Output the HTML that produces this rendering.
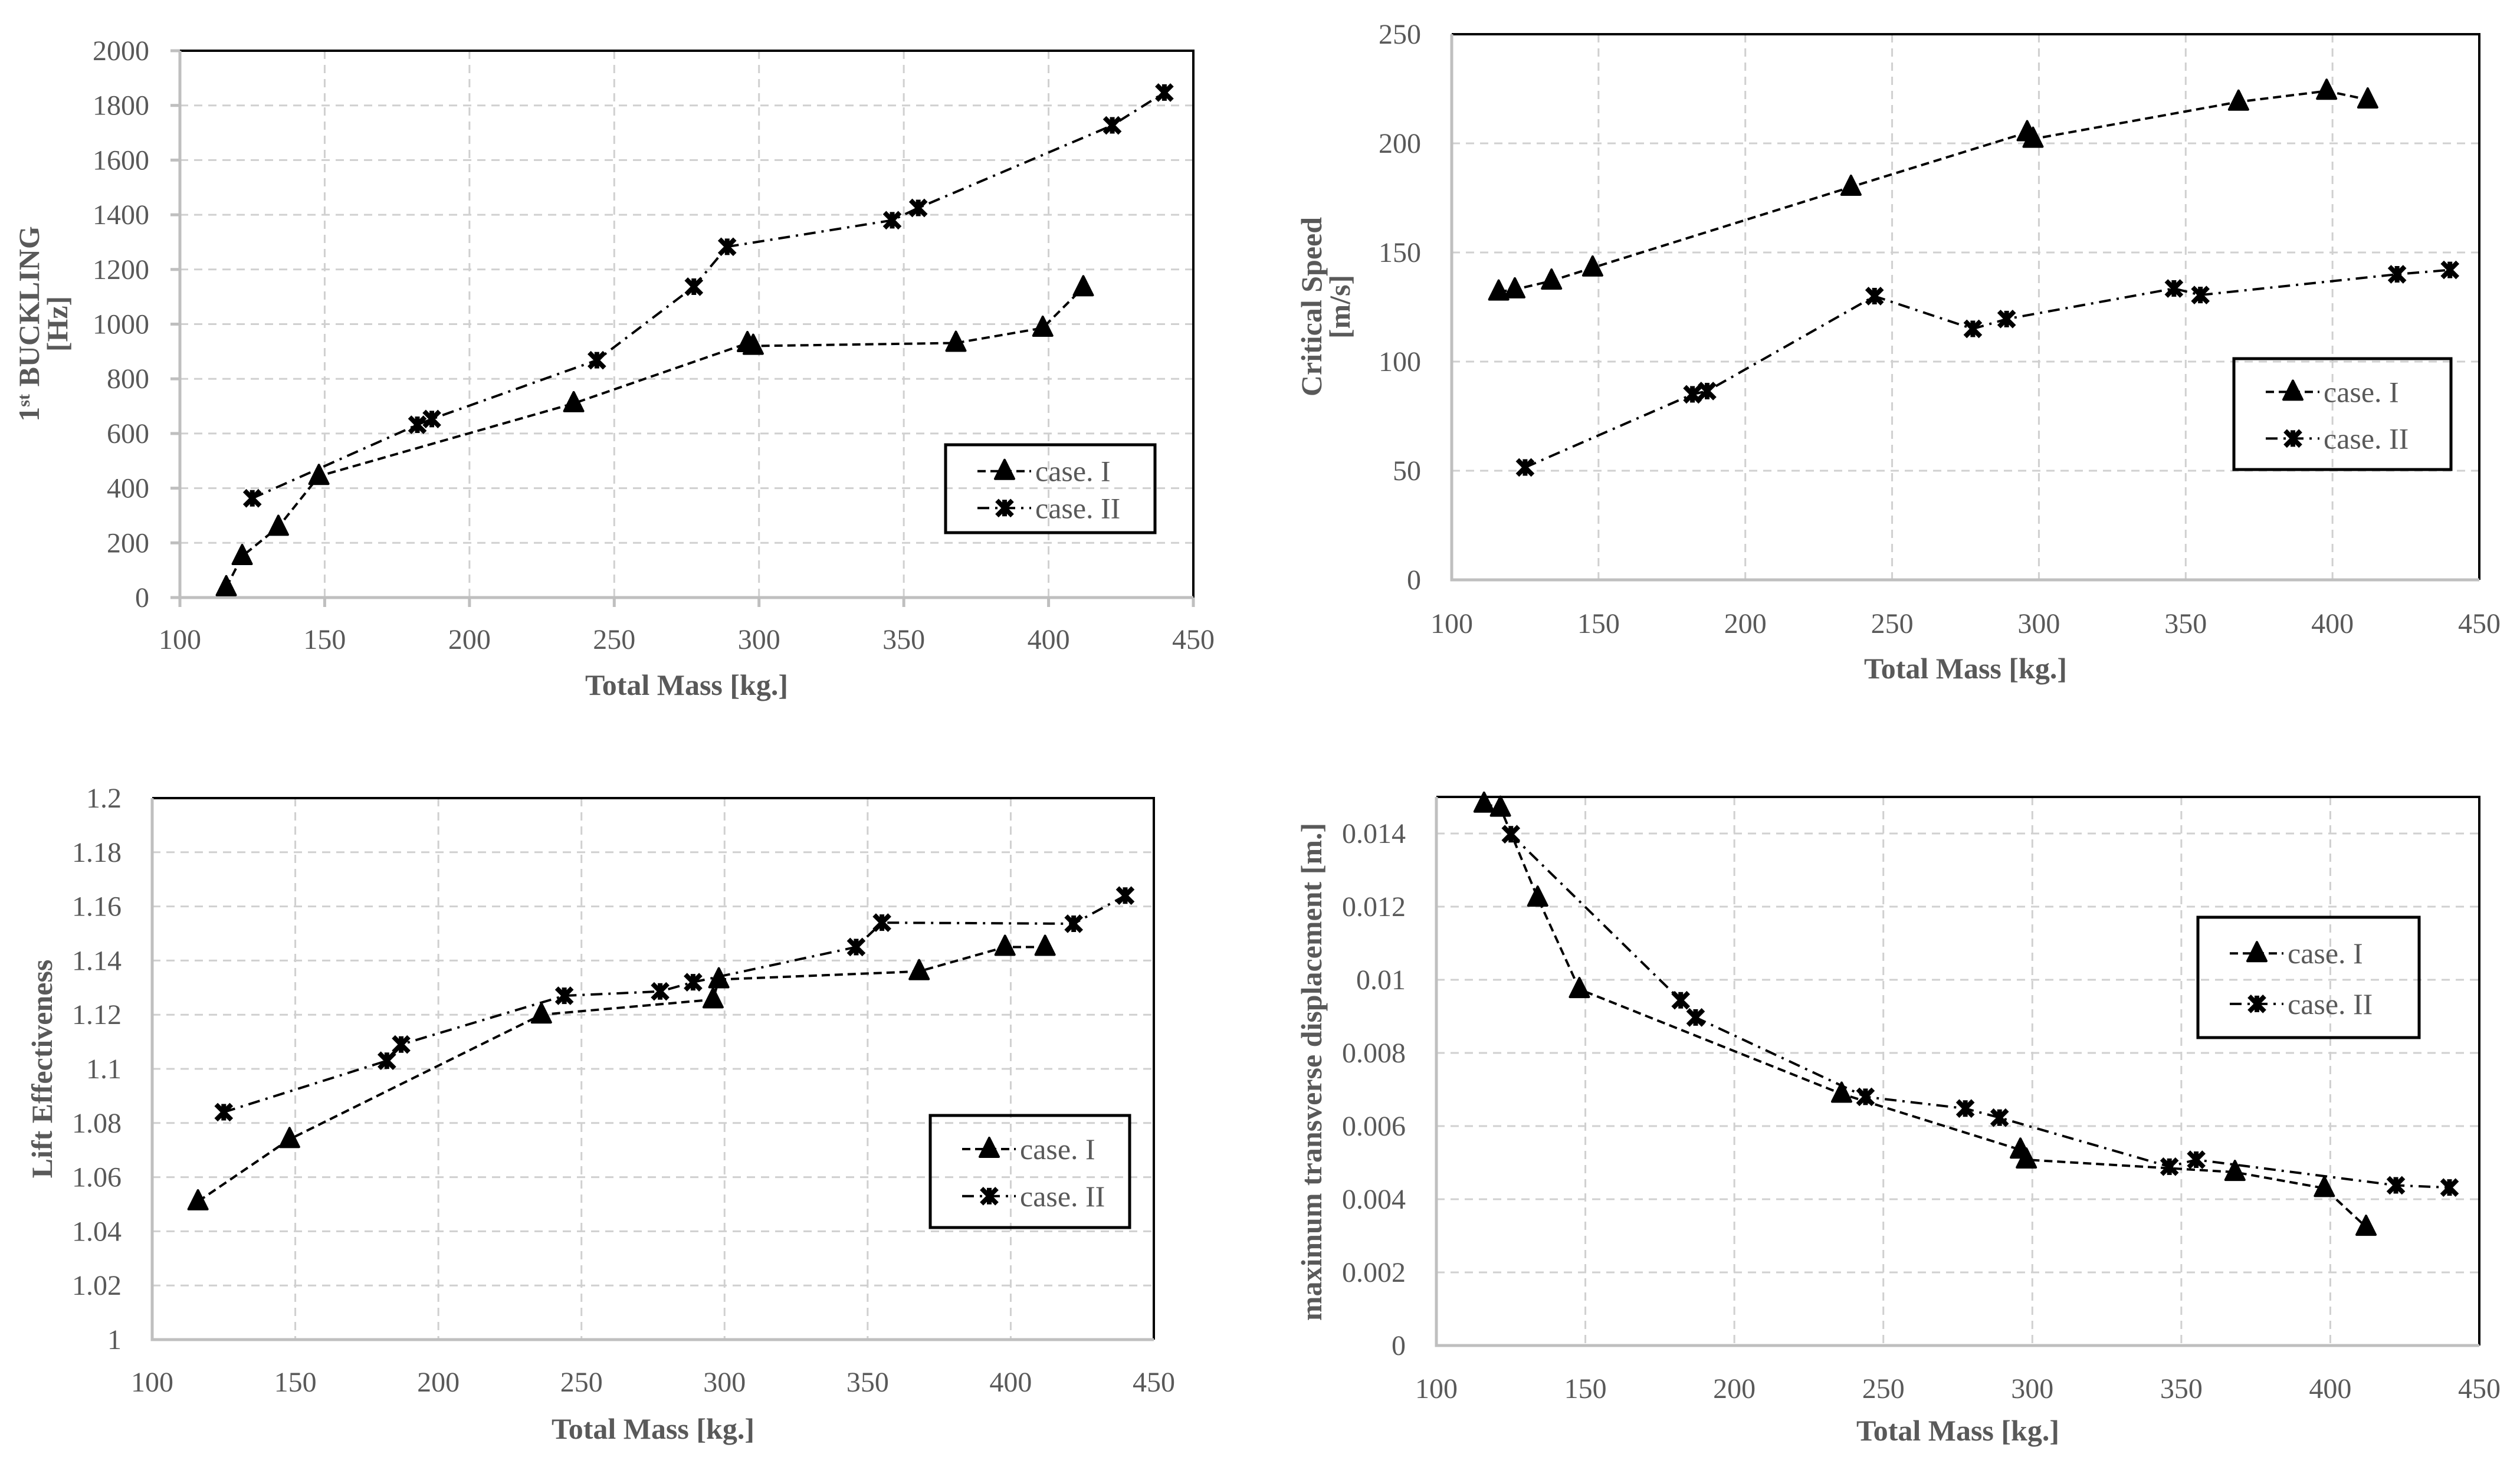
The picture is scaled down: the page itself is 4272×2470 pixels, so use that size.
<!DOCTYPE html>
<html><head><meta charset="utf-8"><title>Total mass charts</title>
<style>
html,body{margin:0;padding:0;background:#fff;}
svg{display:block;}
text{font-family:"Liberation Serif",serif;}
</style></head>
<body>
<svg id="root" xmlns="http://www.w3.org/2000/svg" width="4272" height="2470" viewBox="0 0 4272 2470"></svg>
<script>
// ---- shared x data (total mass) ----
const massCaseI = [116, 121.5, 134, 148, 236, 296, 298, 368, 398, 412];
const massCaseII = [125, 182, 187, 244, 277.5, 289, 346, 355, 422, 440];
const xTicks = [100, 150, 200, 250, 300, 350, 400, 450];

// ---- chart 1: buckling ----
const bucklingCaseI = [37, 151, 258, 444, 710, 930, 920, 931, 986, 1134];
const bucklingCaseII = [363, 632, 653, 868, 1137, 1283, 1380, 1425, 1727, 1847];
const bucklingTicks = [0, 200, 400, 600, 800, 1000, 1200, 1400, 1600, 1800, 2000];

// ---- chart 2: critical speed ----
const speedCaseI = [132, 133, 137, 143, 180, 205, 202, 219, 224, 220];
const speedCaseII = [51.5, 85, 86.5, 130, 115, 119.5, 133.5, 130.5, 140, 142];
const speedTicks = [0, 50, 100, 150, 200, 250];

// ---- chart 3: lift effectiveness ----
const liftMassCaseI = [116, 148, 236, 296, 298, 368, 398, 412];
const liftCaseI = [1.051, 1.074, 1.120, 1.1256, 1.133, 1.136, 1.145, 1.145];
const liftCaseII = [1.084, 1.103, 1.109, 1.127, 1.1286, 1.132, 1.145, 1.154, 1.1536, 1.164];
const liftTicks = [1, 1.02, 1.04, 1.06, 1.08, 1.1, 1.12, 1.14, 1.16, 1.18, 1.2];

// ---- chart 4: displacement ----
const dispCaseI = [0.01481, 0.0147, 0.01224, 0.00974, 0.00688, 0.00535, 0.00508, 0.00474, 0.0043, 0.00324];
const dispCaseII = [0.01398, 0.00944, 0.00897, 0.0068, 0.00648, 0.00623, 0.00489, 0.00508, 0.00438, 0.00432];
const dispTicks = [0, 0.002, 0.004, 0.006, 0.008, 0.01, 0.012, 0.014];

const NS = "http://www.w3.org/2000/svg";
const root = document.getElementById('root');
function mk(tag, attrs, parent) {
  const e = document.createElementNS(NS, tag);
  for (const k in attrs) e.setAttribute(k, attrs[k]);
  (parent || root).appendChild(e);
  return e;
}
const DASH_I = "14 8";
const DASH_II = "20 10 4 10";

function triangle(g, x, y) {
  const p = mk('path', {d: `M${x} ${y-19} L${x+16} ${y+13} L${x-16} ${y+13} Z`, fill: '#000', stroke: '#000', 'stroke-width': 4, 'stroke-linejoin': 'round'}, g);
  
  
}
function star(g, x, y) {
  const p = mk('path', {d: `M${x-13} ${y-13} L${x+13} ${y+13} M${x+13} ${y-13} L${x-13} ${y+13} M${x} ${y-14} L${x} ${y+14}`, fill: 'none', stroke: '#000', 'stroke-width': 8}, g);
  
  
}

function chart(cfg) {
  const g = mk('g', {});
  
  
  const L = cfg.l, R = cfg.r, T = cfg.t, B = cfg.b;
  const yMin = cfg.yTicks[0], yMax = cfg.yMax;
  const sx = v => L + (v - 100) / 350 * (R - L);
  const sy = v => B - (v - yMin) / (yMax - yMin) * (B - T);
  const grid = mk('g', {stroke: '#d0d0d0', 'stroke-width': 3, 'stroke-dasharray': '14 10'}, g);
  
  
  xTicks.forEach(v => { if (v > 100 && v < 450) mk('line', {x1: sx(v), x2: sx(v), y1: T, y2: B}, grid); });
  cfg.yTicks.forEach(v => { if (v > yMin) mk('line', {x1: L, x2: R, y1: sy(v), y2: sy(v)}, grid); });
  const fr = mk('path', {d: `M${L} ${T} L${R} ${T} L${R} ${B}`, fill: 'none', stroke: '#000', 'stroke-width': 4}, g);
  
  
  const ax = mk('path', {d: `M${L} ${T} L${L} ${B} L${R} ${B}`, fill: 'none', stroke: '#bfbfbf', 'stroke-width': 5}, g);
  
  
  if (cfg.tickMarks) {
    cfg.yTicks.forEach(v => mk('line', {x1: L - 16, x2: L, y1: sy(v), y2: sy(v), stroke: '#bfbfbf', 'stroke-width': 5}, g));
    xTicks.forEach(v => mk('line', {x1: sx(v), x2: sx(v), y1: B, y2: B + 16, stroke: '#bfbfbf', 'stroke-width': 5}, g));
  }
  xTicks.forEach(v => {
    const t = mk('text', {x: sx(v), y: cfg.xLabY, 'font-size': 48, fill: '#595959', 'text-anchor': 'middle'}, g);
    t.textContent = v;
    
    
  });
  cfg.yTicks.forEach((v, i) => {
    const t = mk('text', {x: L - 52, y: sy(v) + 16, 'font-size': 48, fill: '#595959', 'text-anchor': 'end'}, g);
    t.textContent = cfg.yLabels[i];
    
    
  });
  const xt = mk('text', {x: (L + R) / 2, y: cfg.xTitleY, 'font-size': 50, 'font-weight': 'bold', fill: '#595959', 'text-anchor': 'middle'}, g);
  xt.textContent = 'Total Mass [kg.]';
  
  
  cfg.yTitle.forEach((line, i) => {
    const x = cfg.yTitleX + i * 48, y = cfg.yTitleY;
    const t = mk('text', {x: x, y: y, 'font-size': 50, 'font-weight': 'bold', fill: '#595959', 'text-anchor': 'middle', transform: `rotate(-90 ${x} ${y})`}, g);
    t.innerHTML = line;
    
    
  });
  function series(xs, ys, dash, marker, nm) {
    const sg = mk('g', {}, g);
    
    
    const pts = xs.map((x, i) => sx(x) + ',' + sy(ys[i])).join(' ');
    mk('polyline', {points: pts, fill: 'none', stroke: '#000', 'stroke-width': 4, 'stroke-dasharray': dash}, sg);
    xs.forEach((x, i) => marker(sg, sx(x), sy(ys[i])));
  }
  series(cfg.xI, cfg.yI, DASH_I, triangle, 'series-case-i');
  series(cfg.xII, cfg.yII, DASH_II, star, 'series-case-ii');
  const lg = mk('g', {}, g);
  
  
  const [lx1, ly1, lx2, ly2] = cfg.legend;
  mk('rect', {x: lx1, y: ly1, width: lx2 - lx1, height: ly2 - ly1, fill: 'none', stroke: '#000', 'stroke-width': 5}, lg);
  const h = ly2 - ly1;
  [[ly1 + h * 0.3, DASH_I, triangle, 'case. I', 'legend-entry-case-i'], [ly1 + h * 0.72, DASH_II, star, 'case. II', 'legend-entry-case-ii']].forEach(e => {
    const eg = mk('g', {}, lg);
    
    
    mk('line', {x1: lx1 + 54, x2: lx1 + 145, y1: e[0], y2: e[0], stroke: '#000', 'stroke-width': 4, 'stroke-dasharray': e[1]}, eg);
    e[2](eg, lx1 + 100, e[0]);
    const t = mk('text', {x: lx1 + 152, y: e[0] + 17, 'font-size': 50, fill: '#595959'}, eg);
    t.textContent = e[3];
  });
}

chart({name: 'buckling-chart', l: 305, r: 2023, t: 86, b: 1013, yMax: 2000, yTicks: bucklingTicks,
  yLabels: bucklingTicks.map(String), xLabY: 1100, xTitleY: 1178, tickMarks: true,
  yTitle: ['1<tspan font-size="30" dy="-16">st</tspan><tspan dy="16"> BUCKLING</tspan>', '[Hz]'], yTitleX: 66, yTitleY: 549,
  xI: massCaseI, yI: bucklingCaseI, xII: massCaseII, yII: bucklingCaseII, legend: [1603, 754, 1958, 903]});

chart({name: 'critical-speed-chart', l: 2461, r: 4203, t: 58, b: 983, yMax: 250, yTicks: speedTicks,
  yLabels: speedTicks.map(String), xLabY: 1073, xTitleY: 1150, tickMarks: false,
  yTitle: ['Critical Speed', '[m/s]'], yTitleX: 2240, yTitleY: 520,
  xI: massCaseI, yI: speedCaseI, xII: massCaseII, yII: speedCaseII, legend: [3787, 608, 4155, 796]});

chart({name: 'lift-effectiveness-chart', l: 258, r: 1956, t: 1353, b: 2271, yMax: 1.2, yTicks: liftTicks,
  yLabels: ['1', '1.02', '1.04', '1.06', '1.08', '1.1', '1.12', '1.14', '1.16', '1.18', '1.2'], xLabY: 2359, xTitleY: 2439, tickMarks: false,
  yTitle: ['Lift Effectiveness'], yTitleX: 88, yTitleY: 1812,
  xI: liftMassCaseI, yI: liftCaseI, xII: massCaseII, yII: liftCaseII, legend: [1577, 1891, 1915, 2081]});

chart({name: 'displacement-chart', l: 2435, r: 4203, t: 1351, b: 2281, yMax: 0.015, yTicks: dispTicks,
  yLabels: ['0', '0.002', '0.004', '0.006', '0.008', '0.01', '0.012', '0.014'], xLabY: 2370, xTitleY: 2442, tickMarks: false,
  yTitle: ['maximum transverse displacement [m.]'], yTitleX: 2240, yTitleY: 1817,
  xI: massCaseI, yI: dispCaseI, xII: massCaseII, yII: dispCaseII, legend: [3726, 1555, 4101, 1759]});
</script>
</body></html>
